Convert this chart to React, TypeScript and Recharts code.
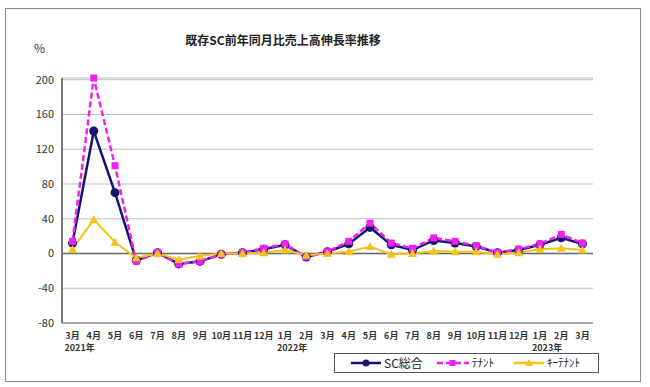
import React from "react";
import { LineChart, Line, XAxis, YAxis, CartesianGrid, ReferenceLine } from "recharts";

const months = ["3月","4月","5月","6月","7月","8月","9月","10月","11月","12月","1月","2月","3月","4月","5月","6月","7月","8月","9月","10月","11月","12月","1月","2月","3月"];
const years = ["2021年","","","","","","","","","","2022年","","","","","","","","","","","","2023年","",""];
const scTotal = [12,141,70,-8,1,-12,-9,-1,1,5,10,-4,2,11,30,10,4,15,12,8,1,4,10,18,11];
const tenant = [14,202,101,-9,1,-12,-9,-1,1,6,11,-4,2,14,35,12,6,18,14,9,1,5,11,22,12];
const keyTenant = [5,39,13,-5,0,-7,-3,0,0,1,4,-2,0,2,8,-1,0,3,2,2,-1,1,5,6,4];
const yTicks = [-80,-40,0,40,80,120,160,200];

const data = months.map((m, i) => ({ idx: i, month: m, sc: scTotal[i], tenant: tenant[i], key: keyTenant[i] }));

const NAVY = "#14146e";
const MAGENTA = "#f020f0";
const GOLD = "#f5c21b";
const FONT = "'Noto Sans CJK JP', 'Noto Sans', sans-serif";

const CircleDot = (p: any) => (p.cx == null ? null : <circle key={p.index} cx={p.cx} cy={p.cy} r={4.5} fill={NAVY} />);
const SquareDot = (p: any) => (p.cx == null ? null : <rect key={p.index} x={p.cx - 3.5} y={p.cy - 3.5} width={7} height={7} fill={MAGENTA} />);
const TriDot = (p: any) => (p.cx == null ? null : <path key={p.index} d={`M${p.cx},${p.cy - 4.5}L${p.cx + 4.5},${p.cy + 3.5}L${p.cx - 4.5},${p.cy + 3.5}Z`} fill={GOLD} />);

const XTick = (p: any) => {
  const i = p.index;
  return (
    <g>
      <text x={p.x} y={p.y + 7.5} textAnchor="middle" fontSize={9} fontWeight="bold" fill="#333" fontFamily={FONT}>{months[i]}</text>
      {years[i] ? (
        <text x={p.x - 8} y={p.y + 20} textAnchor="start" fontSize={9} fontWeight="bold" fill="#333" fontFamily={FONT}>{years[i]}</text>
      ) : null}
    </g>
  );
};

export default function App() {
  return (
    <div style={{ position: "absolute", left: 0, top: 0, width: 650, height: 387, background: "#fff", fontFamily: FONT }}>
      <div style={{ position: "absolute", left: 5, top: 8, width: 634, height: 372, border: "1.5px solid #888" }} />
      <div style={{ position: "absolute", left: 0, top: 31, width: 566, textAlign: "center", fontSize: 12, fontWeight: "bold", color: "#222" }}>
        既存SC前年同月比売上高伸長率推移
      </div>
      <div style={{ position: "absolute", left: 34, top: 39, fontSize: 12, color: "#333" }}>%</div>
      <div style={{ position: "absolute", left: 0, top: 0 }}>
        <LineChart width={650} height={387} data={data} margin={{ top: 78, right: 57, bottom: 34, left: 22 }}>
          <CartesianGrid vertical={false} stroke="#bbb" strokeWidth={1} />
          <XAxis dataKey="idx" type="category" height={30} padding={{ left: 10.5, right: 10.5 }} tick={<XTick />} tickLine={false} axisLine={{ stroke: "#999", strokeWidth: 1.5 }} interval={0} />
          <YAxis width={40} domain={[-80, 200]} ticks={yTicks} tickLine={false} axisLine={{ stroke: "#777", strokeWidth: 2 }} tick={{ fontSize: 11, fill: "#333", fontFamily: FONT }} interval={0} />
          <ReferenceLine y={0} stroke="#666" strokeWidth={1.5} />
          <Line dataKey="sc" stroke={NAVY} strokeWidth={2.5} dot={<CircleDot />} isAnimationActive={false} />
          <Line dataKey="tenant" stroke={MAGENTA} strokeWidth={2.5} strokeDasharray="6 3" dot={<SquareDot />} isAnimationActive={false} />
          <Line dataKey="key" stroke={GOLD} strokeWidth={2} dot={<TriDot />} isAnimationActive={false} />
        </LineChart>
      </div>
      <div style={{ position: "absolute", left: 334, top: 353, width: 263, height: 18, border: "1px solid #555", background: "#fff" }}>
        <svg width={263} height={18} overflow="visible" style={{ position: "absolute", left: 0, top: 0, overflow: "visible" }}>
          <line x1={16} y1={9} x2={46} y2={9} stroke={NAVY} strokeWidth={2.5} />
          <circle cx={31} cy={9} r={3.5} fill={NAVY} />
          <text x={49} y={13.5} fontSize={12} fill="#222" fontFamily={FONT}>SC総合</text>
          <line x1={102} y1={9} x2={134} y2={9} stroke={MAGENTA} strokeWidth={2.5} strokeDasharray="6 3" />
          <rect x={114.5} y={6} width={6} height={6} fill={MAGENTA} />
          <text x={137} y={13} fontSize={11} fill="#222" fontFamily={FONT}>ﾃﾅﾝﾄ</text>
          <line x1={179} y1={9} x2={209} y2={9} stroke={GOLD} strokeWidth={2.5} />
          <path d="M194,5L198,12L190,12Z" fill={GOLD} />
          <text x={212} y={13} fontSize={11} fill="#222" fontFamily={FONT}>ｷｰﾃﾅﾝﾄ</text>
        </svg>
      </div>
    </div>
  );
}
